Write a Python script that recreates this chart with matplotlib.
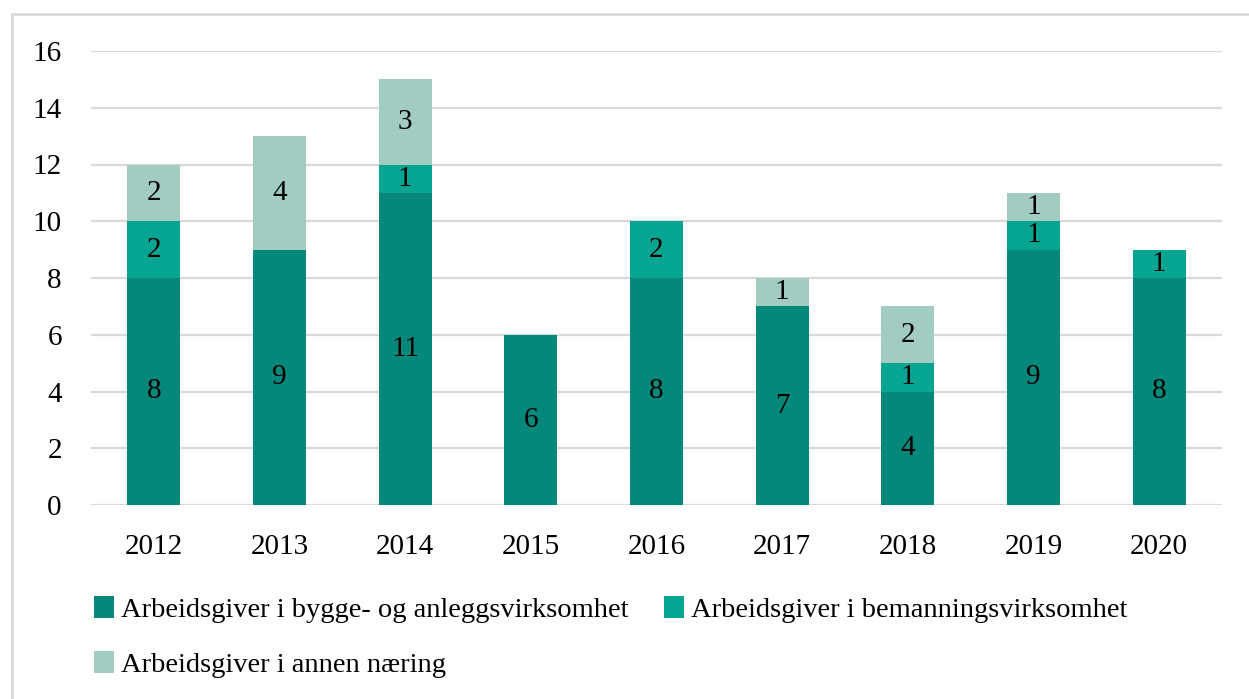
import matplotlib.pyplot as plt
import numpy as np
from matplotlib.patches import Rectangle

plt.rcParams['font.family'] = ['Liberation Serif', 'DejaVu Serif']

years = ['2012', '2013', '2014', '2015', '2016', '2017', '2018', '2019', '2020']
bygg = [8, 9, 11, 6, 8, 7, 4, 9, 8]
bemanning = [2, 0, 1, 0, 2, 0, 1, 1, 1]
annen = [2, 4, 3, 0, 0, 1, 2, 1, 0]

series = [
    ('Arbeidsgiver i bygge- og anleggsvirksomhet', bygg, '#05877A'),
    ('Arbeidsgiver i bemanningsvirksomhet', bemanning, '#06A591'),
    ('Arbeidsgiver i annen næring', annen, '#A2CBC2'),
]

W, H = 1249, 699
fig = plt.figure(figsize=(W / 100, H / 100), dpi=100)
fig.patches.append(Rectangle((12 / W, -0.1), 1.2, (H - 14) / H + 0.1,
                             transform=fig.transFigure, fill=False,
                             edgecolor='#D9D9D9', linewidth=2))

ax = fig.add_axes([91 / W, 194 / H, (1222 - 91) / W, (505 - 51) / H])
x = np.arange(len(years))
bottom = np.zeros(len(years))
handles = []
for name, vals, color in series:
    vals = np.array(vals)
    bars = ax.bar(x, vals, 0.42, bottom=bottom, color=color, label=name, zorder=2)
    ax.bar_label(bars, labels=[str(v) if v else '' for v in vals],
                 label_type='center', fontsize=21, color='black')
    bottom += vals
    handles.append(bars)

ax.set_xlim(-0.5, len(years) - 0.5)
ax.set_ylim(0, 16)
ax.set_yticks(np.arange(0, 17, 2))
ax.set_xticks(x)
ax.set_xticklabels(years)
ax.yaxis.grid(True, color='#D9D9D9', linewidth=1.6, zorder=0)
ax.set_axisbelow(True)
for s in ax.spines.values():
    s.set_visible(False)
ax.tick_params(axis='both', length=0, labelsize=21, colors='black')
ax.tick_params(axis='x', pad=21)
ax.tick_params(axis='y', pad=21)

# legend fills column-wise, so order entries to read row-wise like the original
order = [0, 2, 1]
leg = fig.legend(handles=[handles[i] for i in order], loc='upper left',
                 bbox_to_anchor=(94 / W, 1 - 596 / H),
                 ncol=2, frameon=False, fontsize=20.5, handlelength=0.7, handleheight=0.8,
                 handletextpad=0.25, columnspacing=1.25, labelspacing=1.0,
                 borderaxespad=0, borderpad=0)

fig.savefig('out.png', dpi=100)
